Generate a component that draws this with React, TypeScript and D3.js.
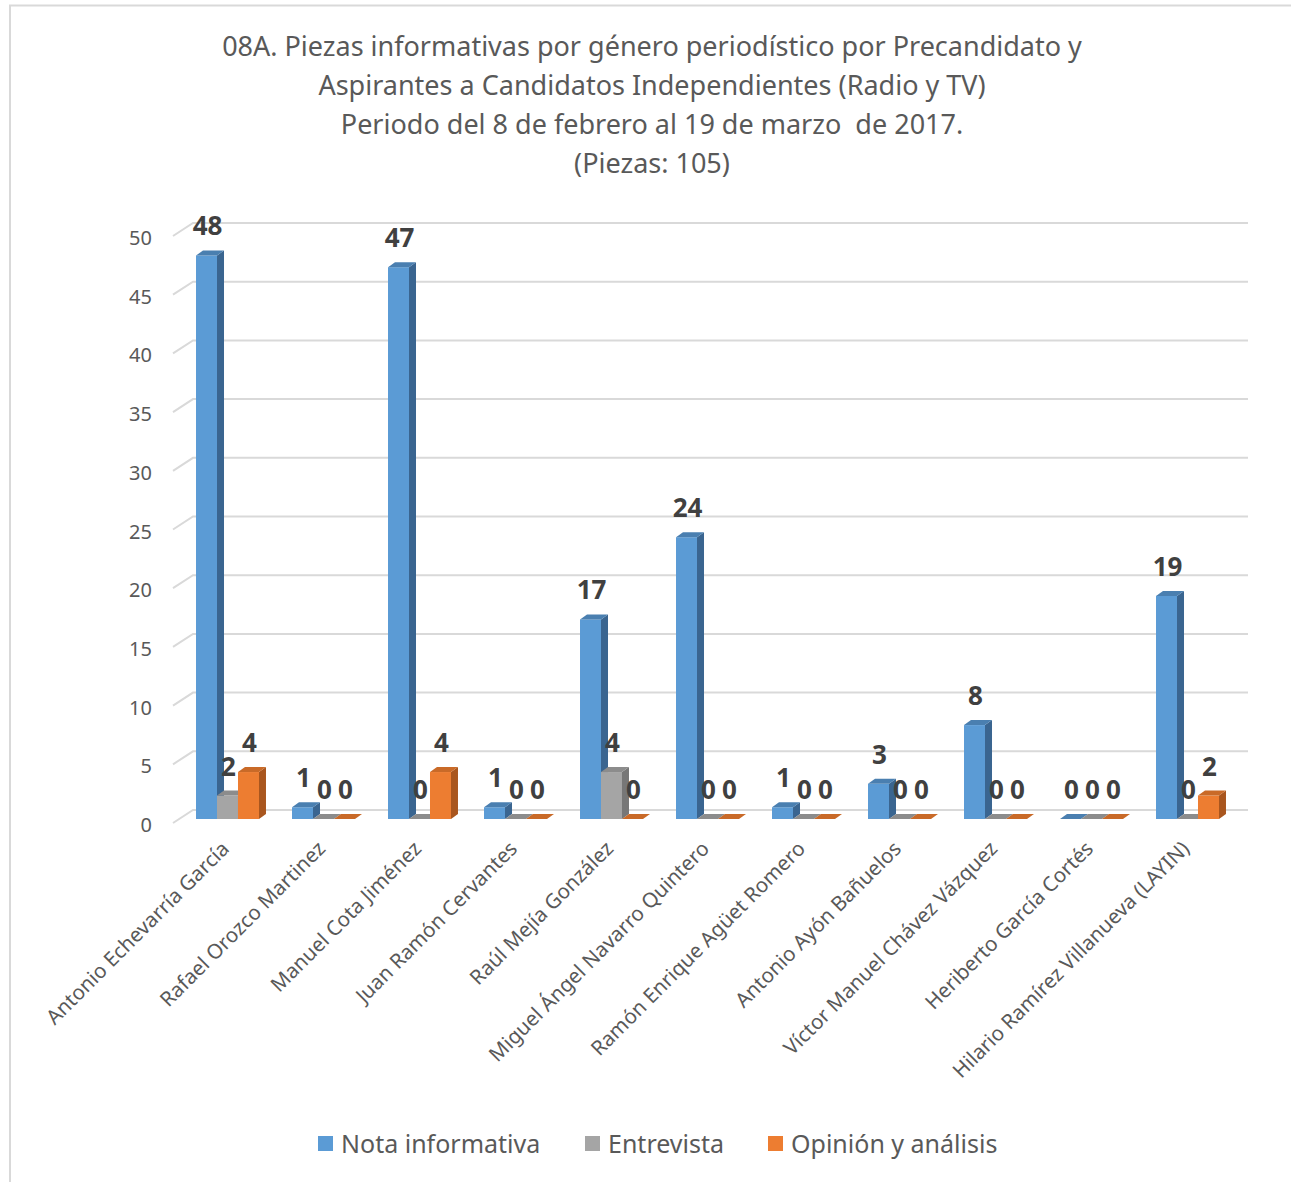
import * as d3 from "d3";
import { useEffect, useRef } from "react";

const TITLE = [
  "08A. Piezas informativas por género periodístico por Precandidato y",
  "Aspirantes a Candidatos Independientes (Radio y TV)",
  "Periodo del 8 de febrero al 19 de marzo  de 2017.",
  "(Piezas: 105)",
];

const CANDIDATES = [
  "Antonio Echevarría García",
  "Rafael Orozco Martinez",
  "Manuel Cota Jiménez",
  "Juan Ramón Cervantes",
  "Raúl Mejía González",
  "Miguel Ángel Navarro Quintero",
  "Ramón Enrique Agüet Romero",
  "Antonio Ayón Bañuelos",
  "Víctor Manuel Chávez Vázquez",
  "Heriberto García Cortés",
  "Hilario Ramírez Villanueva (LAYIN)",
];

const SERIES = ["Nota informativa", "Entrevista", "Opinión y análisis"];

const NOTA = [48, 1, 47, 1, 17, 24, 1, 3, 8, 0, 19];
const ENTREVISTA = [2, 0, 0, 0, 4, 0, 0, 0, 0, 0, 0];
const OPINION = [4, 0, 4, 0, 0, 0, 0, 0, 0, 0, 2];

const Y_TICKS = [0, 5, 10, 15, 20, 25, 30, 35, 40, 45, 50];

const COLORS = [
  { front: "#5B9BD5", side: "#3A6590", top: "#4A7FB0" },
  { front: "#A5A5A5", side: "#777777", top: "#8C8C8C" },
  { front: "#ED7D31", side: "#A9561E", top: "#C96A28" },
];

const FONT = "'Noto Sans', 'Open Sans', sans-serif";

export default function App() {
  const ref = useRef<SVGSVGElement>(null);

  useEffect(() => {
    if (!ref.current) return;
    const svg = d3.select(ref.current);
    svg.selectAll("*").remove();

    const width = 1291;
    const height = 1182;
    const depthX = 7;
    const depthY = -5;
    const wallX = 20;
    const wallY = -13;

    svg.attr("width", width).attr("height", height);
    svg.append("rect").attr("width", width).attr("height", height).attr("fill", "#fff");

    // frame
    svg
      .append("path")
      .attr("d", `M10,${height} V5.5 H${width}`)
      .attr("fill", "none")
      .attr("stroke", "#d9d9d9")
      .attr("stroke-width", 2);

    // title
    svg
      .append("g")
      .selectAll("text")
      .data(TITLE)
      .join("text")
      .attr("x", 652)
      .attr("y", (_, i) => 56 + i * 39)
      .attr("text-anchor", "middle")
      .style("font-family", FONT)
      .style("font-size", "27px")
      .style("white-space", "pre")
      .style("fill", "#595959")
      .text((d) => d);

    const yFront = d3.scaleLinear().domain([0, 50]).range([819, 232]);
    const yBack = (v: number) => yFront(v) + wallY + 4;

    const x = d3
      .scaleBand<string>()
      .domain(CANDIDATES)
      .range([179.5, 1235.5])
      .paddingInner(0.344)
      .paddingOuter(0.172);

    const xs = d3.scaleBand<string>().domain(SERIES).range([0, x.bandwidth()]);

    // gridlines
    const grid = svg.append("g");
    Y_TICKS.forEach((t) => {
      const yb = yBack(t);
      grid
        .append("path")
        .attr("d", `M173,${yb - wallY} L${173 + wallX},${yb} H1248`)
        .attr("fill", "none")
        .attr("stroke", "#d9d9d9")
        .attr("stroke-width", 2);
    });

    svg
      .append("g")
      .selectAll("text")
      .data(Y_TICKS)
      .join("text")
      .attr("x", 152)
      .attr("y", (d) => yBack(d) - wallY + 2)
      .attr("dy", "0.35em")
      .attr("text-anchor", "end")
      .style("font-family", FONT)
      .style("font-size", "20px")
      .style("fill", "#595959")
      .text((d) => d);

    const values = [NOTA, ENTREVISTA, OPINION];

    type Bar = { cat: string; s: number; v: number };
    const bars: Bar[] = [];
    CANDIDATES.forEach((c, i) => {
      SERIES.forEach((_, s) => bars.push({ cat: c, s, v: values[s][i] }));
    });

    const barG = svg.append("g");
    bars.forEach((b) => {
      const x0 = (x(b.cat) ?? 0) + (xs(SERIES[b.s]) ?? 0);
      const w = xs.bandwidth();
      const y0 = yFront(0);
      const y1 = yFront(b.v);
      const col = COLORS[b.s];
      const g = barG.append("g");
      if (b.v > 0) {
        g.append("rect")
          .attr("x", x0)
          .attr("y", y1)
          .attr("width", w)
          .attr("height", y0 - y1)
          .attr("fill", col.front);
        g.append("path")
          .attr(
            "d",
            `M${x0 + w},${y1} L${x0 + w + depthX},${y1 + depthY} V${y0 + depthY} L${x0 + w},${y0} Z`
          )
          .attr("fill", col.side);
      }
      g.append("path")
        .attr(
          "d",
          `M${x0},${y1} L${x0 + depthX},${y1 + depthY} H${x0 + w + depthX} L${x0 + w},${y1} Z`
        )
        .attr("fill", col.top);
    });

    // value labels
    svg
      .append("g")
      .selectAll("text")
      .data(bars)
      .join("text")
      .attr("x", (d) => (x(d.cat) ?? 0) + (xs(SERIES[d.s]) ?? 0) + xs.bandwidth() / 2 + 1)
      .attr("y", (d) => yFront(d.v) - 20)
      .attr("text-anchor", "middle")
      .style("font-family", FONT)
      .style("font-size", "26px")
      .style("font-weight", "700")
      .style("fill", "#404040")
      .text((d) => d.v);

    // category labels
    svg
      .append("g")
      .selectAll("text")
      .data(CANDIDATES)
      .join("text")
      .attr("transform", (d) => `translate(${(x(d) ?? 0) + x.bandwidth() / 2 + 3},${850}) rotate(-45)`)
      .attr("text-anchor", "end")
      .style("font-family", FONT)
      .style("font-size", "20.5px")
      .style("fill", "#595959")
      .text((d) => d);

    // legend
    const legendX = [318, 585, 768];
    const legend = svg.append("g");
    SERIES.forEach((s, i) => {
      legend
        .append("rect")
        .attr("x", legendX[i])
        .attr("y", 1136)
        .attr("width", 15)
        .attr("height", 15)
        .attr("fill", COLORS[i].front);
      legend
        .append("text")
        .attr("x", legendX[i] + 23)
        .attr("y", 1144)
        .attr("dy", "0.35em")
        .style("font-family", FONT)
        .style("font-size", "25px")
        .style("fill", "#595959")
        .text(s);
    });
  }, []);

  return (
    <div style={{ position: "absolute", left: 0, top: 0 }}>
      <svg ref={ref} style={{ display: "block" }} />
    </div>
  );
}
